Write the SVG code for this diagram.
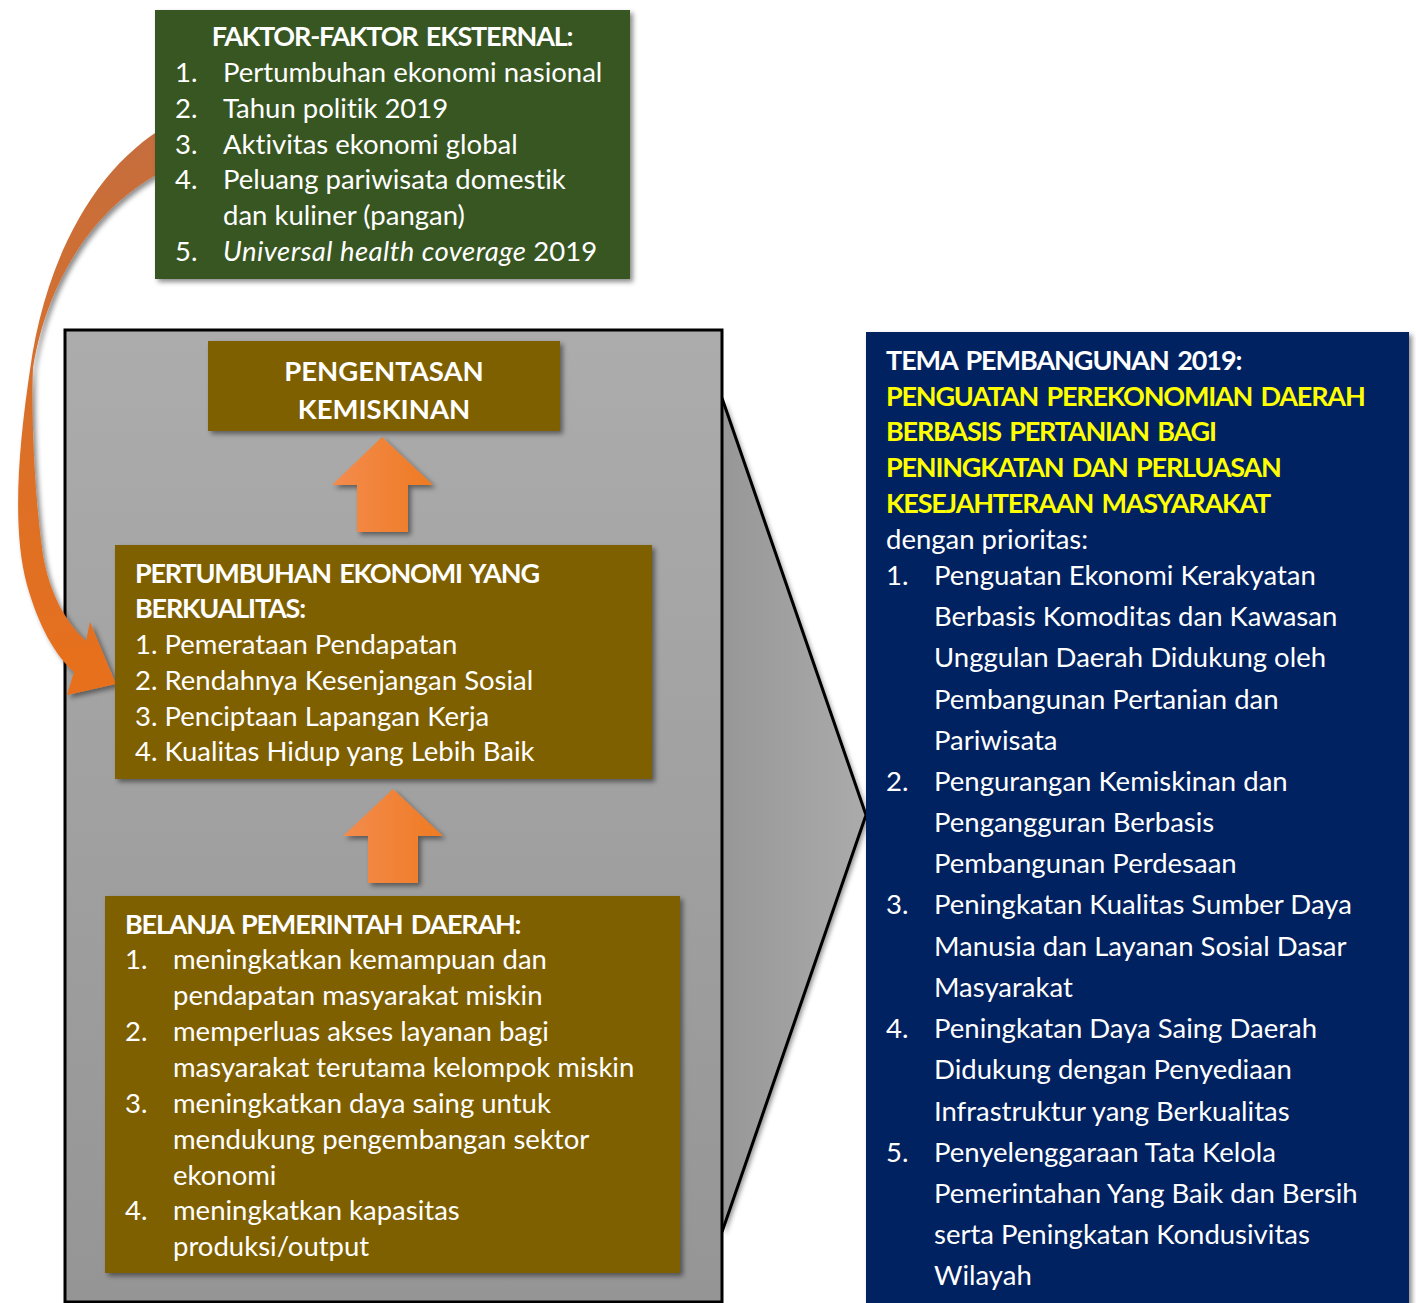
<svg xmlns="http://www.w3.org/2000/svg" width="1416" height="1303" viewBox="0 0 1416 1303">
<defs>
<style>
text{font-family:Lato,"Liberation Sans",sans-serif;font-size:27.5px;fill:#ffffff;font-variant-ligatures:none;font-feature-settings:"liga" 0,"clig" 0}
.b{font-weight:700;font-size:27px;letter-spacing:-1.2px;word-spacing:3px}
.t{font-weight:700;font-size:27.5px}
.y{fill:#ffff00}
.it{font-style:italic;letter-spacing:0.45px}
.c{text-anchor:middle}
</style>
<filter id="sh" x="-10%" y="-10%" width="130%" height="130%">
<feDropShadow dx="3" dy="3" stdDeviation="2.5" flood-color="#000" flood-opacity="0.45"/>
</filter>
<linearGradient id="gPanel" x1="0" y1="0" x2="0" y2="1">
<stop offset="0" stop-color="#acacac"/>
<stop offset="1" stop-color="#959595"/>
</linearGradient>
<linearGradient id="gFunnel" x1="0" y1="0" x2="1" y2="0">
<stop offset="0" stop-color="#979797"/>
<stop offset="1" stop-color="#ababab"/>
</linearGradient>
<linearGradient id="gUp" x1="0" y1="0" x2="1" y2="0">
<stop offset="0" stop-color="#f48c4e"/>
<stop offset="1" stop-color="#ee7a22"/>
</linearGradient>
<linearGradient id="gCurve" x1="0" y1="0" x2="0" y2="1">
<stop offset="0" stop-color="#c46d3e"/>
<stop offset="0.5" stop-color="#d9702a"/>
<stop offset="1" stop-color="#e8701d"/>
</linearGradient>
</defs>
<rect width="1416" height="1303" fill="#ffffff"/>

<g id="panel">
<polygon points="722,398 866,815 722,1232" fill="url(#gFunnel)" filter="url(#sh)"/>
<polyline points="722,398 866,815 722,1232" fill="none" stroke="#000" stroke-width="3"/>
<rect x="65" y="330" width="657" height="972" fill="url(#gPanel)" stroke="#000" stroke-width="3"/>
</g>

<g id="connectors">
<path d="M170 124 C95 165 45 260 30 370 C18 450 12 530 27 585 C39 627 55 655 74 672 L67 695 L116 684 L90 622 L86 641 C66 622 50 595 43 555 C35 500 31 420 33 368 C48 275 100 200 170 168 Z" fill="url(#gCurve)" filter="url(#sh)"/>
<polygon points="382,437 433,485 408,485 408,532 357,532 357,485 332,485" fill="url(#gUp)" filter="url(#sh)"/>
<polygon points="393,789 443,836 418,836 418,883 368,883 368,836 343,836" fill="url(#gUp)" filter="url(#sh)"/>
</g>

<g id="node-external">
<rect x="155" y="10" width="475" height="269" fill="#385723" filter="url(#sh)"/>
<text class="b c" x="392" y="46">FAKTOR-FAKTOR EKSTERNAL:</text>
<text x="175" y="82">1.</text><text x="223" y="82">Pertumbuhan ekonomi nasional</text>
<text x="175" y="118">2.</text><text x="223" y="118">Tahun politik 2019</text>
<text x="175" y="154">3.</text><text x="223" y="154">Aktivitas ekonomi global</text>
<text x="175" y="189">4.</text><text x="223" y="189">Peluang pariwisata domestik</text>
<text x="223" y="225">dan kuliner (pangan)</text>
<text x="175" y="261">5.</text><text x="223" y="261"><tspan class="it">Universal health coverage</tspan> 2019</text>
</g>

<g id="node-pengentasan">
<rect x="208" y="341" width="352" height="90" fill="#7f6000" filter="url(#sh)"/>
<text class="t c" x="384" y="381">PENGENTASAN</text>
<text class="t c" x="384" y="419">KEMISKINAN</text>
</g>

<g id="node-pertumbuhan">
<rect x="115" y="545" width="537" height="234" fill="#7f6000" filter="url(#sh)"/>
<text class="b" x="135" y="583">PERTUMBUHAN EKONOMI YANG</text>
<text class="b" x="135" y="618">BERKUALITAS:</text>
<text x="135" y="654">1. Pemerataan Pendapatan</text>
<text x="135" y="690">2. Rendahnya Kesenjangan Sosial</text>
<text x="135" y="726">3. Penciptaan Lapangan Kerja</text>
<text x="135" y="761">4. Kualitas Hidup yang Lebih Baik</text>
</g>

<g id="node-belanja">
<rect x="105" y="896" width="575" height="377" fill="#7f6000" filter="url(#sh)"/>
<text class="b" x="125" y="934">BELANJA PEMERINTAH DAERAH:</text>
<text x="125" y="969">1.</text><text x="173" y="969">meningkatkan kemampuan dan</text>
<text x="173" y="1005">pendapatan masyarakat miskin</text>
<text x="125" y="1041">2.</text><text x="173" y="1041">memperluas akses layanan bagi</text>
<text x="173" y="1077">masyarakat terutama kelompok miskin</text>
<text x="125" y="1113">3.</text><text x="173" y="1113">meningkatkan daya saing untuk</text>
<text x="173" y="1149">mendukung pengembangan sektor</text>
<text x="173" y="1185">ekonomi</text>
<text x="125" y="1220">4.</text><text x="173" y="1220">meningkatkan kapasitas</text>
<text x="173" y="1256">produksi/output</text>
</g>

<g id="node-tema">
<rect x="866" y="332" width="543" height="980" fill="#002060" filter="url(#sh)"/>
<text class="b" x="886" y="370" style="letter-spacing:-1.05px">TEMA PEMBANGUNAN 2019:</text>
<text class="b y" x="886" y="406">PENGUATAN PEREKONOMIAN DAERAH</text>
<text class="b y" x="886" y="441">BERBASIS PERTANIAN BAGI</text>
<text class="b y" x="886" y="477">PENINGKATAN DAN PERLUASAN</text>
<text class="b y" x="886" y="513">KESEJAHTERAAN MASYARAKAT</text>
<text x="886" y="549">dengan prioritas:</text>
<text x="886" y="585">1.</text><text x="934" y="585">Penguatan Ekonomi Kerakyatan</text>
<text x="934" y="626">Berbasis Komoditas dan Kawasan</text>
<text x="934" y="667">Unggulan Daerah Didukung oleh</text>
<text x="934" y="709">Pembangunan Pertanian dan</text>
<text x="934" y="750">Pariwisata</text>
<text x="886" y="791">2.</text><text x="934" y="791">Pengurangan Kemiskinan dan</text>
<text x="934" y="832">Pengangguran Berbasis</text>
<text x="934" y="873">Pembangunan Perdesaan</text>
<text x="886" y="914">3.</text><text x="934" y="914">Peningkatan Kualitas Sumber Daya</text>
<text x="934" y="956">Manusia dan Layanan Sosial Dasar</text>
<text x="934" y="997">Masyarakat</text>
<text x="886" y="1038">4.</text><text x="934" y="1038">Peningkatan Daya Saing Daerah</text>
<text x="934" y="1079">Didukung dengan Penyediaan</text>
<text x="934" y="1121">Infrastruktur yang Berkualitas</text>
<text x="886" y="1162">5.</text><text x="934" y="1162">Penyelenggaraan Tata Kelola</text>
<text x="934" y="1203">Pemerintahan Yang Baik dan Bersih</text>
<text x="934" y="1244">serta Peningkatan Kondusivitas</text>
<text x="934" y="1285">Wilayah</text>
</g>
</svg>
